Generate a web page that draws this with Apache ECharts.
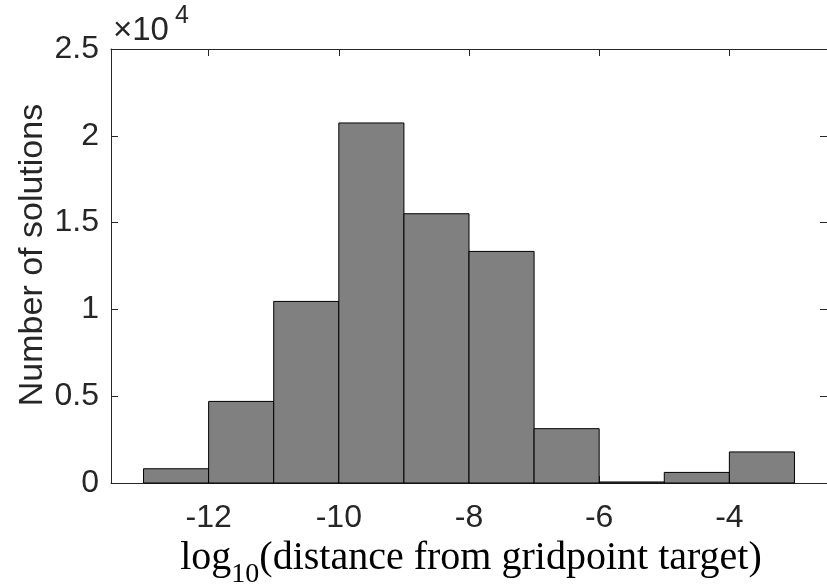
<!DOCTYPE html>
<html>
<head>
<meta charset="utf-8">
<script src="https://cdn.jsdelivr.net/npm/echarts@6/dist/echarts.min.js"></script>
<style>
html,body{margin:0;padding:0;background:#fff;}
#chart{width:827px;height:586px;}
</style>
</head>
<body>
<div id="chart"></div>
<script>
// Histogram bins (log10 distance) and counts
var binStarts = [-13, -12, -11, -10, -9, -8, -7, -6, -5, -4];
var binEnds   = [-12, -11, -10, -9, -8, -7, -6, -5, -4, -3];
var counts    = [820, 4700, 10460, 20740, 15510, 13340, 3130, 60, 610, 1790];
var xTicks = [-12, -10, -8, -6, -4];
var yTickLabels = ['0', '0.5', '1', '1.5', '2', '2.5'];
var xTitleMain = 'log';
var xTitleSub = '10';
var xTitleRest = '(distance from gridpoint target)';
var yTitle = 'Number of solutions';

var axisColor = '#262626';
var sansFont = '"Liberation Sans", Arial, Helvetica, sans-serif';
var serifFont = '"Liberation Serif", "Times New Roman", serif';

var data = binStarts.map(function (s, i) { return [s, binEnds[i], counts[i]]; });

// measure x-title pieces for layout
var mctx = document.createElement('canvas').getContext('2d');
function measure(t, size, fam) { mctx.font = size + 'px ' + fam; return mctx.measureText(t).width; }
var mainSize = 40, subSize = 28;
var w1 = measure(xTitleMain, mainSize, serifFont);
var w2 = measure(xTitleSub, subSize, serifFont);
var w3 = measure(xTitleRest, mainSize, serifFont);
var titleCenter = 471, titleBaseline = 572;
var tx0 = titleCenter - (w1 + w2 + w3) / 2;
// convert a desired baseline to a top position (zrender draws text from top)
function topFor(baseline, size, serif) { return baseline - size * (serif ? 0.8375 : 0.8465); }

var chart = echarts.init(document.getElementById('chart'), null, {renderer: 'canvas'});

var tickStyle = {show: true, inside: true, length: 7, lineStyle: {color: axisColor, width: 1}};

var option = {
  animation: false,
  backgroundColor: '#ffffff',
  grid: {left: 111, top: 49, width: 722, height: 434, containLabel: false},
  xAxis: [{
    type: 'value', position: 'bottom', min: -13.5, max: -2.5,
    axisLine: {show: true, onZero: false, lineStyle: {color: axisColor, width: 1}},
    axisTick: Object.assign({customValues: xTicks}, tickStyle),
    axisLabel: {customValues: xTicks, color: axisColor, fontSize: 32, fontFamily: sansFont, margin: 19,
      formatter: function (v) { return String(v); }},
    splitLine: {show: false}
  }, {
    type: 'value', position: 'top', min: -13.5, max: -2.5,
    axisLine: {show: true, onZero: false, lineStyle: {color: axisColor, width: 1}},
    axisTick: Object.assign({customValues: xTicks}, tickStyle),
    axisLabel: {show: false},
    splitLine: {show: false}
  }],
  yAxis: [{
    type: 'value', position: 'left', min: 0, max: 25000, interval: 5000,
    axisLine: {show: true, lineStyle: {color: axisColor, width: 1}},
    axisTick: tickStyle,
    axisLabel: {color: axisColor, fontSize: 32, fontFamily: sansFont, margin: 12,
      formatter: function (v) { return yTickLabels[Math.round(v / 5000)]; }},
    splitLine: {show: false}
  }, {
    type: 'value', position: 'right', min: 0, max: 25000, interval: 5000,
    axisLine: {show: true, lineStyle: {color: axisColor, width: 1}},
    axisTick: tickStyle,
    axisLabel: {show: false},
    splitLine: {show: false}
  }],
  graphic: [
    {type: 'text', x: 33, y: 255, rotation: Math.PI / 2,
      style: {text: yTitle, fontSize: 34, fontFamily: sansFont, fill: axisColor, align: 'center', verticalAlign: 'middle'}},
    {type: 'text', x: 113, y: topFor(42, 33, false), style: {text: '×10', fontSize: 33, fontFamily: sansFont, fill: axisColor}},
    {type: 'text', x: 175, y: topFor(25, 25, false), style: {text: '4', fontSize: 25, fontFamily: sansFont, fill: axisColor}},
    {type: 'text', x: tx0, y: topFor(titleBaseline, mainSize, true), style: {text: xTitleMain, fontSize: mainSize, fontFamily: serifFont, fill: '#000'}},
    {type: 'text', x: tx0 + w1, y: topFor(titleBaseline + 12, subSize, true), style: {text: xTitleSub, fontSize: subSize, fontFamily: serifFont, fill: '#000'}},
    {type: 'text', x: tx0 + w1 + w2, y: topFor(titleBaseline, mainSize, true), style: {text: xTitleRest, fontSize: mainSize, fontFamily: serifFont, fill: '#000'}}
  ],
  series: [{
    type: 'custom',
    xAxisIndex: 0, yAxisIndex: 0,
    encode: {x: [0, 1], y: 2},
    data: data,
    renderItem: function (params, api) {
      var p0 = api.coord([api.value(0), api.value(2)]);
      var p1 = api.coord([api.value(1), 0]);
      return {
        type: 'rect',
        shape: {x: p0[0], y: p0[1], width: p1[0] - p0[0], height: p1[1] - p0[1]},
        style: {fill: '#808080', stroke: '#000000', lineWidth: 1}
      };
    }
  }]
};
chart.setOption(option);
</script>
</body>
</html>
